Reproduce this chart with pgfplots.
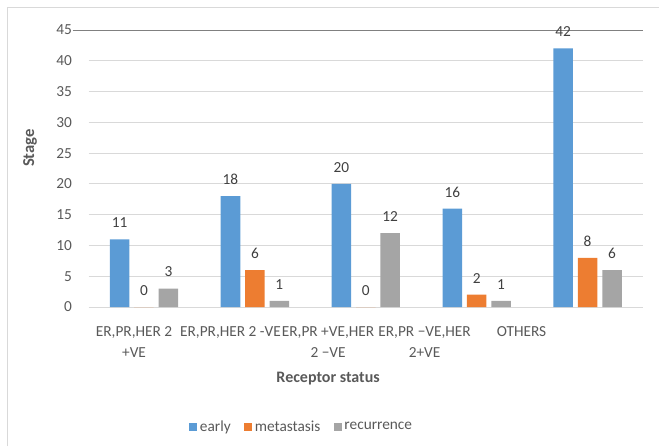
\documentclass[border=0pt]{standalone}
\usepackage{fontspec}
\setmainfont{Carlito}
\usepackage{pgfplots}
\pgfplotsset{compat=1.18}
\definecolor{cblue}{HTML}{5B9BD5}
\definecolor{corange}{HTML}{ED7D31}
\definecolor{cgray}{HTML}{A5A5A5}
\definecolor{tickc}{HTML}{595959}
\definecolor{labc}{HTML}{404040}
\definecolor{gridc}{HTML}{D9D9D9}
\begin{document}
\begin{tikzpicture}
\path[use as bounding box] (0,0) rectangle (494.25pt,334.5pt);
\draw[gridc, line width=0.75pt] (5.25pt,0) -- (5.25pt,328.5pt) -- (494.25pt,328.5pt);
\begin{axis}[
  at={(66.4pt,104.25pt)}, anchor=south west,
  scale only axis, width=415.9pt, height=207.75pt,
  xmin=-0.5, xmax=4.5, ymin=0, ymax=45,
  ytick={0,5,...,45},
  xtick={-0.0897,0.780,1.6596,2.530,3.404},
  xticklabels={{ER,PR,HER 2\\+VE},{ER,PR,HER 2 -VE},{ER,PR +VE,HER\\2 −VE},{ER,PR −VE,HER\\2+VE},{OTHERS}},
  xticklabel style={align=center, font=\fontsize{11.5}{15.5}\selectfont, text=tickc, anchor=north, yshift=-11.5pt},
  yticklabel style={font=\fontsize{11.5}{13.8}\selectfont, text=tickc, xshift=-9pt},
  /pgf/number format/assume math mode=true,
  major tick length=0pt,
  axis line style={draw=none},
  ymajorgrids, major grid style={gridc, line width=0.75pt},
  clip=false,
  bar width=0.176,
  ybar=0pt,
  nodes near coords,
  every node near coord/.append style={font=\fontsize{11.5}{13.8}\selectfont, text=labc, anchor=center, yshift=12.4pt},
  ylabel={\textbf{Stage}},
  every axis y label/.style={at={(axis description cs:-0.1055,0.574)}, rotate=90, anchor=center, font=\fontsize{12.5}{15}\selectfont, text=tickc},
  xlabel={\textbf{Receptor status}},
  every axis x label/.style={at={(axis description cs:0.432,-0.26)}, anchor=center, font=\fontsize{12}{14}\selectfont, text=tickc},
  legend columns=3,
  legend style={at={(axis description cs:0.385,-0.433)}, anchor=center, draw=none, fill=none, font=\fontsize{11.5}{13.8}\selectfont, text=tickc,
    /tikz/every even column/.append style={column sep=8pt}},
  legend image code/.code={\fill[#1,draw=none] (0pt,-3pt) rectangle (6pt,3pt);},
]
\addplot[fill=cblue, draw=none, bar shift=-0.22] coordinates {(0,11) (1,18) (2,20) (3,16) (4,42)};
\addplot[fill=corange, draw=none, bar shift=0] coordinates {(0,0) (1,6) (2,0) (3,2) (4,8)};
\addplot[fill=cgray, draw=none, bar shift=0.22] coordinates {(0,3) (1,1) (2,12) (3,1) (4,6)};
\legend{early, metastasis, recurrence}
\draw[color=gray, line width=0.75pt] (axis cs:-0.644,45) -- (axis cs:4.5,45);
\end{axis}
\end{tikzpicture}
\end{document}
